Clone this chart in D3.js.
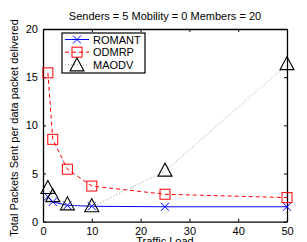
<!DOCTYPE html>
<html>
<head>
<meta charset="utf-8">
<script src="https://cdn.jsdelivr.net/npm/d3@7"></script>
<style>
  body { margin: 0; background: #fff; }
  text { font-family: "Liberation Sans", Arial, sans-serif; }
</style>
</head>
<body>
<div id="chart"></div>
<script>
var trafficLoad = [1, 2, 5, 10, 25, 50];
var romant = [2.6, 2.05, 1.7, 1.6, 1.55, 1.55];
var odmrp = [15.45, 8.55, 5.45, 3.7, 2.85, 2.5];
var maodv = [3.45, 2.6, 1.75, 1.55, 5.25, 16.3];
var seriesNames = ["ROMANT", "ODMRP", "MAODV"];
var xTicks = [0, 10, 20, 30, 40, 50];
var yTicks = [0, 5, 10, 15, 20];

var W = 307, H = 242;
var margin = {top: 29, right: 20, bottom: 20, left: 43};
var width = 287 - margin.left, height = 221.7 - margin.top;

var svg = d3.select("#chart").append("svg")
    .attr("width", W)
    .attr("height", H);

var g = svg.append("g")
    .attr("transform", "translate(" + margin.left + "," + margin.top + ")");

var x = d3.scaleLinear().domain([0, 50]).range([0, width]),
    y = d3.scaleLinear().domain([0, 20]).range([height, 0]);

// axes, MATLAB style box with inward ticks
var ax = g.append("g")
    .attr("transform", "translate(0," + height + ")")
    .call(d3.axisBottom(x).tickValues(xTicks).tickSizeInner(-3).tickSizeOuter(0).tickPadding(6));
var ay = g.append("g")
    .call(d3.axisLeft(y).tickValues(yTicks).tickSizeInner(-3).tickSizeOuter(0).tickPadding(5));
var axTop = g.append("g")
    .call(d3.axisTop(x).tickValues(xTicks).tickSizeInner(-3).tickSizeOuter(0).tickFormat(""));
var ayRight = g.append("g")
    .attr("transform", "translate(" + width + ",0)")
    .call(d3.axisRight(y).tickValues(yTicks).tickSizeInner(-3).tickSizeOuter(0).tickFormat(""));

[ax, ay, axTop, ayRight].forEach(function (a) {
    a.select(".domain").attr("stroke", "#000").attr("stroke-width", 1.3);
    a.selectAll(".tick line").attr("stroke", "#000");
    a.selectAll(".tick text").attr("font-size", 11).attr("fill", "#000")
        .attr("font-family", "Liberation Sans, Arial, sans-serif");
});

function pts(vals) {
    return trafficLoad.map(function (t, i) { return {x: t, y: vals[i]}; });
}

var line = d3.line()
    .x(function (d) { return x(d.x); })
    .y(function (d) { return y(d.y); });

var series = [
    {name: seriesNames[0], data: pts(romant), color: "#0000ff", dash: null, lineColor: "#0000ff", marker: "x"},
    {name: seriesNames[1], data: pts(odmrp), color: "#ff0000", dash: "4,3", lineColor: "#ff0000", marker: "square"},
    {name: seriesNames[2], data: pts(maodv), color: "#000", dash: "1,2", lineColor: "#999", marker: "triangle"}
];

function drawMarker(sel, type, color) {
    if (type === "x") {
        sel.append("path").attr("d", "M-4,-4L4,4M-4,4L4,-4")
            .attr("stroke", color).attr("stroke-width", 1).attr("fill", "none");
    } else if (type === "square") {
        sel.append("rect").attr("x", -5).attr("y", -5).attr("width", 10).attr("height", 10)
            .attr("stroke", color).attr("stroke-width", 1).attr("fill", "none");
    } else {
        sel.append("path").attr("d", "M0,-8L7,5L-7,5Z")
            .attr("stroke", color).attr("stroke-width", 1.1).attr("fill", "none");
    }
}

series.forEach(function (s) {
    g.append("path")
        .datum(s.data)
        .attr("d", line)
        .attr("fill", "none")
        .attr("stroke", s.lineColor)
        .attr("stroke-width", 1)
        .attr("stroke-dasharray", s.dash);
    g.selectAll(null)
        .data(s.data)
        .enter().append("g")
        .attr("transform", function (d) { return "translate(" + x(d.x) + "," + y(d.y) + ")"; })
        .each(function () { drawMarker(d3.select(this), s.marker, s.color); });
});

// legend
var leg = svg.append("g").attr("transform", "translate(62,33)");
leg.append("rect")
    .attr("width", 83).attr("height", 40)
    .attr("fill", "#fff").attr("stroke", "#000").attr("stroke-width", 1.2);
series.forEach(function (s, i) {
    var row = leg.append("g").attr("transform", "translate(0," + (6.5 + i * 12.7) + ")");
    row.append("line")
        .attr("x1", 3).attr("x2", 27)
        .attr("stroke", s.lineColor)
        .attr("stroke-dasharray", s.dash);
    var m = row.append("g").attr("transform", "translate(15," + (s.marker === "triangle" ? 1 : 0) + ")");
    drawMarker(m, s.marker, s.color);
    row.append("text")
        .attr("x", 31).attr("y", 4)
        .attr("font-size", 11)
        .text(s.name);
});

// titles
svg.append("text")
    .attr("x", 165).attr("y", 20)
    .attr("text-anchor", "middle")
    .attr("font-size", 11)
    .text("Senders = 5 Mobility = 0 Members = 20");

svg.append("text")
    .attr("x", 165).attr("y", 245)
    .attr("text-anchor", "middle")
    .attr("font-size", 11)
    .text("Traffic Load");

svg.append("text")
    .attr("transform", "translate(18," + (H / 2 + 7) + ") rotate(-90)")
    .attr("text-anchor", "middle")
    .attr("font-size", 11)
    .text("Total Packets Sent per data packet delivered");
</script>
</body>
</html>
